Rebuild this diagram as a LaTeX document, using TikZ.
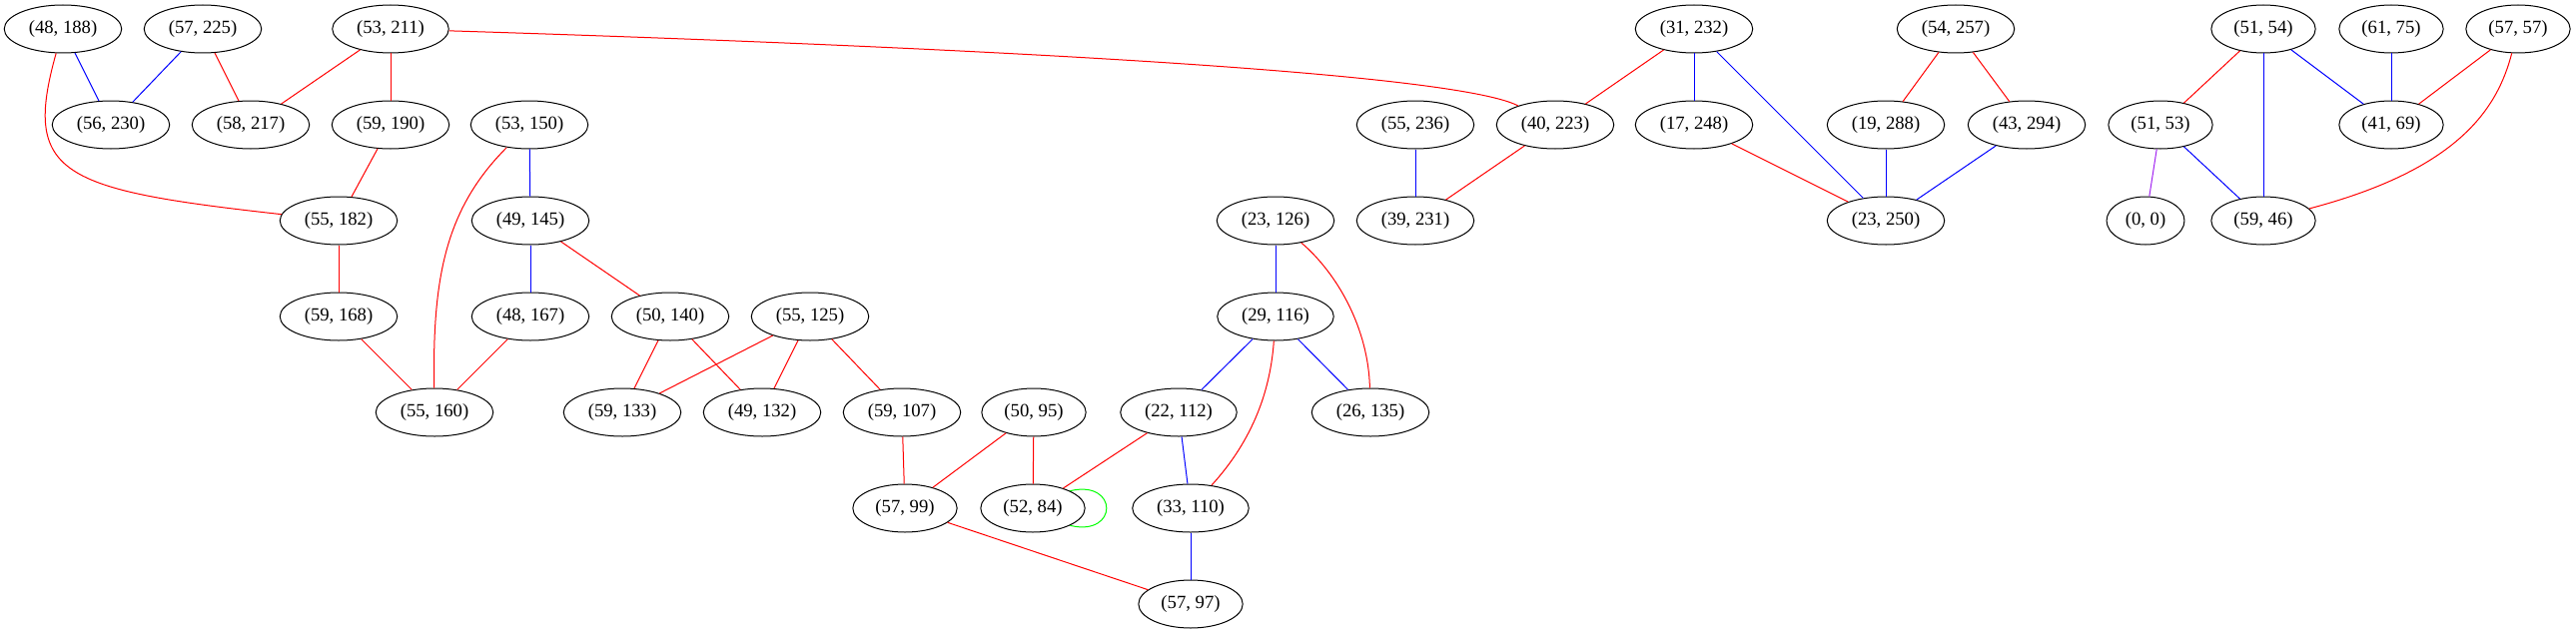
\documentclass[tikz,border=0pt]{standalone}
\usepackage{fontspec}
\setmainfont{Liberation Serif}
\usetikzlibrary{shapes.geometric}

\tikzset{every picture/.style={line width=0.75pt}}

\begin{document}
\begin{tikzpicture}[x=0.75pt,y=0.75pt,yscale=-1,xscale=1,
  pair/.style={ellipse,draw,inner xsep=5.5pt,inner ysep=2pt,minimum height=36pt,font=\fontsize{14}{16}\selectfont},
  redline/.style={color={rgb, 255:red, 255; green, 0; blue, 0 }},
  blueline/.style={color={rgb, 255:red, 0; green, 0; blue, 255 }},
  greenline/.style={color={rgb, 255:red, 0; green, 255; blue, 0 }},
  purpleline/.style={color={rgb, 255:red, 160; green, 32; blue, 240 }}]
\useasboundingbox (0,0) rectangle (2579,635);

%Shape: Ellipse -- first row
\node [pair] (n48_188) at (63,29) {(48, 188)};
\node [pair] (n57_225) at (203,29) {(57, 225)};
\node [pair] (n53_211) at (391,29) {(53, 211)};
\node [pair] (n31_232) at (1696,29) {(31, 232)};
\node [pair] (n54_257) at (1958,29) {(54, 257)};
\node [pair] (n51_54) at (2266,29) {(51, 54)};
\node [pair] (n61_75) at (2394,29) {(61, 75)};
\node [pair] (n57_57) at (2521,29) {(57, 57)};
%Shape: Ellipse -- second row
\node [pair] (n56_230) at (111,125) {(56, 230)};
\node [pair] (n58_217) at (251,125) {(58, 217)};
\node [pair] (n59_190) at (391,125) {(59, 190)};
\node [pair] (n53_150) at (530,125) {(53, 150)};
\node [pair] (n55_236) at (1417,125) {(55, 236)};
\node [pair] (n40_223) at (1557,125) {(40, 223)};
\node [pair] (n17_248) at (1696,125) {(17, 248)};
\node [pair] (n19_288) at (1888,125) {(19, 288)};
\node [pair] (n43_294) at (2029,125) {(43, 294)};
\node [pair] (n51_53) at (2163,125) {(51, 53)};
\node [pair] (n41_69) at (2394,125) {(41, 69)};
%Shape: Ellipse -- third row
\node [pair] (n55_182) at (339,221) {(55, 182)};
\node [pair] (n49_145) at (531,221) {(49, 145)};
\node [pair] (n23_126) at (1277,221) {(23, 126)};
\node [pair] (n39_231) at (1417,221) {(39, 231)};
\node [pair] (n23_250) at (1888,221) {(23, 250)};
\node [pair] (n0_0) at (2148,221) {(0, 0)};
\node [pair] (n59_46) at (2266,221) {(59, 46)};
%Shape: Ellipse -- fourth row
\node [pair] (n59_168) at (339,317) {(59, 168)};
\node [pair] (n48_167) at (531,317) {(48, 167)};
\node [pair] (n50_140) at (671,317) {(50, 140)};
\node [pair] (n55_125) at (811,317) {(55, 125)};
\node [pair] (n29_116) at (1277,317) {(29, 116)};
%Shape: Ellipse -- fifth row
\node [pair] (n55_160) at (435,413) {(55, 160)};
\node [pair] (n59_133) at (623,413) {(59, 133)};
\node [pair] (n49_132) at (763,413) {(49, 132)};
\node [pair] (n59_107) at (903,413) {(59, 107)};
\node [pair] (n50_95) at (1035,413) {(50, 95)};
\node [pair] (n22_112) at (1180,413) {(22, 112)};
\node [pair] (n26_135) at (1372,413) {(26, 135)};
%Shape: Ellipse -- last rows
\node [pair] (n57_99) at (906,509) {(57, 99)};
\node [pair] (n52_84) at (1034,509) {(52, 84)};
\node [pair] (n33_110) at (1192,509) {(33, 110)};
\node [pair] (n57_97) at (1192,605) {(57, 97)};

%Straight Lines -- blue
\draw [blueline] (n48_188) -- (n56_230);
\draw [blueline] (n57_225) -- (n56_230);
\draw [blueline] (n53_150) -- (n49_145);
\draw [blueline] (n49_145) -- (n48_167);
\draw [blueline] (n23_126) -- (n29_116);
\draw [blueline] (n29_116) -- (n22_112);
\draw [blueline] (n29_116) -- (n26_135);
\draw [blueline] (n22_112) -- (n33_110);
\draw [blueline] (n33_110) -- (n57_97);
\draw [blueline] (n55_236) -- (n39_231);
\draw [blueline] (n31_232) -- (n17_248);
\draw [blueline] (n31_232) -- (n23_250);
\draw [blueline] (n19_288) -- (n23_250);
\draw [blueline] (n43_294) -- (n23_250);
\draw [blueline] (n51_54) -- (n41_69);
\draw [blueline] (n51_54) -- (n59_46);
\draw [blueline] (n61_75) -- (n41_69);
\draw [blueline] (n51_53) -- (n59_46);
%Straight Lines -- red
\draw [redline] (n57_225) -- (n58_217);
\draw [redline] (n53_211) -- (n58_217);
\draw [redline] (n53_211) -- (n59_190);
\draw [redline] (n59_190) -- (n55_182);
\draw [redline] (n55_182) -- (n59_168);
\draw [redline] (n49_145) -- (n50_140);
\draw [redline] (n59_168) -- (n55_160);
\draw [redline] (n48_167) -- (n55_160);
\draw [redline] (n50_140) -- (n59_133);
\draw [redline] (n50_140) -- (n49_132);
\draw [redline] (n55_125) -- (n59_133);
\draw [redline] (n55_125) -- (n49_132);
\draw [redline] (n55_125) -- (n59_107);
\draw [redline] (n59_107) -- (n57_99);
\draw [redline] (n50_95) -- (n57_99);
\draw [redline] (n50_95) -- (n52_84);
\draw [redline] (n22_112) -- (n52_84);
\draw [redline] (n57_99) -- (n57_97);
\draw [redline] (n31_232) -- (n40_223);
\draw [redline] (n40_223) -- (n39_231);
\draw [redline] (n17_248) -- (n23_250);
\draw [redline] (n54_257) -- (n19_288);
\draw [redline] (n54_257) -- (n43_294);
\draw [redline] (n51_54) -- (n51_53);
\draw [redline] (n57_57) -- (n41_69);
%Straight Lines -- purple
\draw [purpleline] (n51_53) -- (n0_0);

%Curve Lines
\draw [redline] (n48_188) .. controls (22,175) and (60,190) .. (n55_182);
\draw [redline] (n53_211) .. controls (900,45) and (1450,70) .. (n40_223);
\draw [redline] (n53_150) .. controls (445,210) and (433,280) .. (n55_160);
\draw [redline] (n29_116) .. controls (1272,390) and (1255,440) .. (n33_110);
\draw [redline] (n23_126) .. controls (1340,275) and (1370,330) .. (n26_135);
\draw [redline] (n57_57) .. controls (2500,110) and (2460,170) .. (n59_46);
%Loop
\draw [greenline] (n52_84.north east) .. controls (1120,480) and (1120,538) .. (n52_84.south east);

\end{tikzpicture}
\end{document}
